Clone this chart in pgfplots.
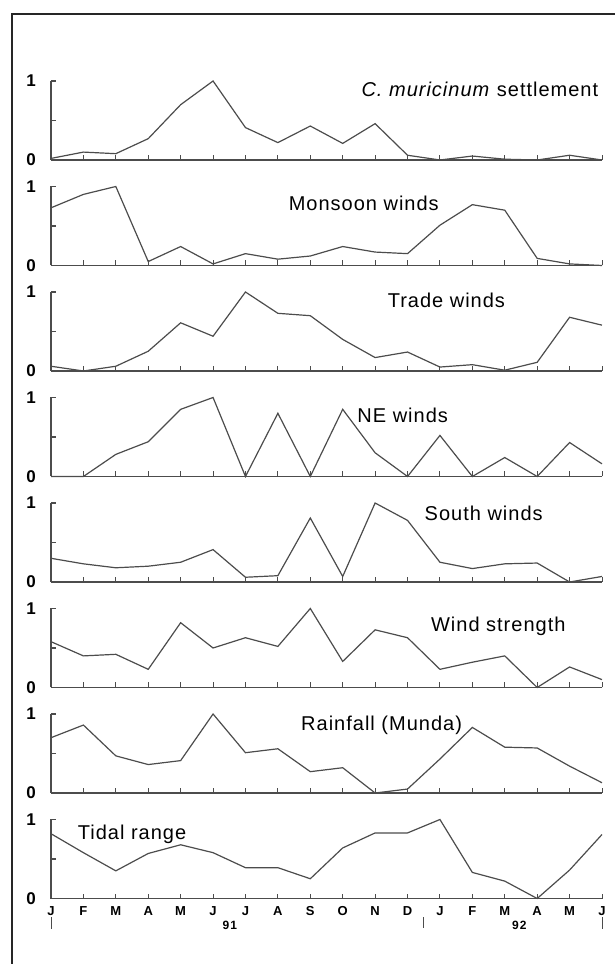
\documentclass[border=0pt]{standalone}
\usepackage{fontspec}
\setmainfont{Liberation Sans}
\newfontfamily\ttlfont{Liberation Sans}[LetterSpace=5]
\newfontfamily\smfont{Liberation Sans}[LetterSpace=10]
\usepackage{pgfplots}
\pgfplotsset{compat=1.18}
\definecolor{ln}{gray}{0.30}
\pgfplotsset{
  panel/.style={
    scale only axis, width=275.5pt, height=39.5pt,
    xmin=0, xmax=17, ymin=0, ymax=1,
    axis lines*=left, clip=false,
    axis line style={ln, line width=0.6pt},
    tick align=inside, major tick length=2.5pt,
    xtick={0,...,17}, xticklabels={},
    ytick={0,0.5,1}, yticklabels={\textbf{0},,\textbf{1}},
    yticklabel style={font=\fontsize{8.5}{9}\selectfont, xshift=-4pt},
    y tick style={ln, line width=0.6pt},
    x tick style={ln, line width=0.5pt},
    anchor=south west,
  },
  dl/.style={ln, line width=0.6pt, no markers},
}
\begin{document}
\begin{tikzpicture}
\path[use as bounding box] (0,0) rectangle (307.5pt,482pt);
\draw[black!85, line width=1pt] (6pt,0pt) -- (6pt,475pt) -- (307.5pt,475pt);

% 1 settlement
\begin{axis}[panel, at={(25.5pt,402pt)}]
\addplot[dl] coordinates {(0,0.02)(1,0.10)(2,0.08)(3,0.27)(4,0.70)(5,1.0)(6,0.41)(7,0.22)(8,0.43)(9,0.21)(10,0.46)(11,0.06)(12,0.0)(13,0.05)(14,0.01)(15,0.0)(16,0.06)(17,0.0)};
\node[anchor=east, font=\ttlfont\fontsize{10}{12}\selectfont] at (axis cs:17.1,0.9) {\textit{C. muricinum} settlement};
\end{axis}

% 2 monsoon
\begin{axis}[panel, at={(25.5pt,349.25pt)}]
\addplot[dl] coordinates {(0,0.73)(1,0.90)(2,1.0)(3,0.05)(4,0.24)(5,0.02)(6,0.15)(7,0.08)(8,0.12)(9,0.24)(10,0.17)(11,0.15)(12,0.51)(13,0.77)(14,0.70)(15,0.09)(16,0.02)(17,0.0)};
\node[font=\ttlfont\fontsize{10}{12}\selectfont] at (axis cs:9.65,0.79) {Monsoon winds};
\end{axis}

% 3 trade
\begin{axis}[panel, at={(25.5pt,296.5pt)}]
\addplot[dl] coordinates {(0,0.06)(1,0.0)(2,0.06)(3,0.25)(4,0.61)(5,0.44)(6,1.0)(7,0.73)(8,0.70)(9,0.40)(10,0.17)(11,0.24)(12,0.05)(13,0.08)(14,0.01)(15,0.11)(16,0.68)(17,0.58)};
\node[font=\ttlfont\fontsize{10}{12}\selectfont] at (axis cs:12.2,0.89) {Trade winds};
\end{axis}

% 4 NE
\begin{axis}[panel, at={(25.5pt,243.75pt)}]
\addplot[dl] coordinates {(0,0)(1,0)(2,0.28)(3,0.44)(4,0.85)(5,1.0)(6,0)(7,0.80)(8,0)(9,0.85)(10,0.30)(11,0)(12,0.52)(13,0)(14,0.24)(15,0)(16,0.43)(17,0.16)};
\node[font=\ttlfont\fontsize{10}{12}\selectfont] at (axis cs:10.85,0.77) {NE winds};
\end{axis}

% 5 south
\begin{axis}[panel, at={(25.5pt,191pt)}]
\addplot[dl] coordinates {(0,0.30)(1,0.23)(2,0.18)(3,0.20)(4,0.25)(5,0.41)(6,0.06)(7,0.08)(8,0.81)(9,0.07)(10,1.0)(11,0.78)(12,0.25)(13,0.17)(14,0.23)(15,0.24)(16,0.0)(17,0.07)};
\node[font=\ttlfont\fontsize{10}{12}\selectfont] at (axis cs:13.35,0.87) {South winds};
\end{axis}

% 6 wind strength
\begin{axis}[panel, at={(25.5pt,138.25pt)}]
\addplot[dl] coordinates {(0,0.58)(1,0.40)(2,0.42)(3,0.23)(4,0.82)(5,0.50)(6,0.63)(7,0.52)(8,1.0)(9,0.33)(10,0.73)(11,0.63)(12,0.23)(13,0.32)(14,0.40)(15,0.0)(16,0.26)(17,0.10)};
\node[font=\ttlfont\fontsize{10}{12}\selectfont] at (axis cs:13.8,0.77) {Wind strength};
\end{axis}

% 7 rainfall
\begin{axis}[panel, at={(25.5pt,85.5pt)}]
\addplot[dl] coordinates {(0,0.70)(1,0.86)(2,0.47)(3,0.36)(4,0.41)(5,1.0)(6,0.51)(7,0.56)(8,0.27)(9,0.32)(10,0.0)(11,0.05)(12,0.43)(13,0.83)(14,0.58)(15,0.57)(16,0.34)(17,0.13)};
\node[font=\ttlfont\fontsize{10}{12}\selectfont] at (axis cs:10.2,0.86) {Rainfall (Munda)};
\end{axis}

% 8 tidal
\begin{axis}[panel, at={(25.5pt,32.75pt)},
  xticklabels={J,F,M,A,M,J,J,A,S,O,N,D,J,F,M,A,M,J},
  xticklabel style={font=\bfseries\fontsize{6.5}{7}\selectfont, yshift=-0.5pt}]
\addplot[dl] coordinates {(0,0.82)(1,0.58)(2,0.35)(3,0.57)(4,0.68)(5,0.58)(6,0.39)(7,0.39)(8,0.25)(9,0.64)(10,0.83)(11,0.83)(12,1.0)(13,0.33)(14,0.22)(15,0.0)(16,0.36)(17,0.81)};
\node[font=\ttlfont\fontsize{10}{12}\selectfont] at (axis cs:2.5,0.81) {Tidal range};
\node[font=\smfont\bfseries\fontsize{6}{7}\selectfont] at (axis cs:5.52,-0.34) {91};
\node[font=\smfont\bfseries\fontsize{6}{7}\selectfont] at (axis cs:14.45,-0.34) {92};
\draw[ln, line width=0.5pt] (axis cs:0,-0.24) -- (axis cs:0,-0.39);
\draw[ln, line width=0.5pt] (axis cs:11.5,-0.24) -- (axis cs:11.5,-0.37);
\draw[ln, line width=0.5pt] (axis cs:17,-0.24) -- (axis cs:17,-0.39);
\end{axis}
\end{tikzpicture}
\end{document}
